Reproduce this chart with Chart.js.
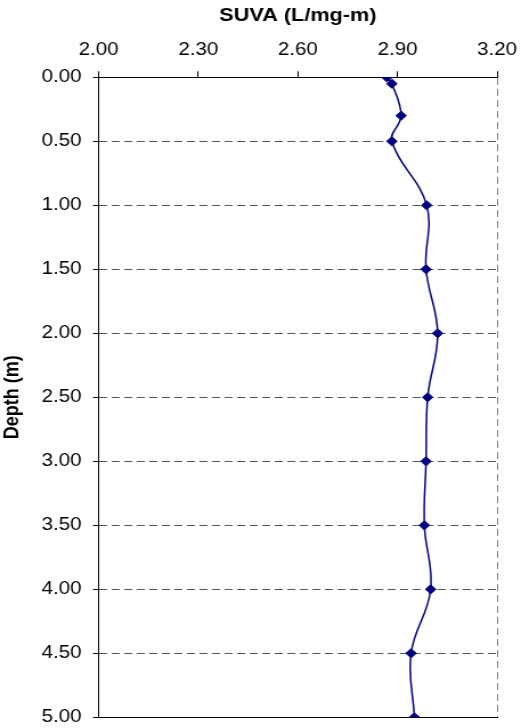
<!DOCTYPE html>
<html>
<head>
<meta charset="utf-8">
<script src="https://cdn.jsdelivr.net/npm/chart.js@4/dist/chart.umd.min.js"></script>
<style>
  html, body { margin: 0; padding: 0; background: #fff; overflow: hidden; }
  /* the reference picture is stretched sideways, so stretch the canvas the same way */
  #wrap { width: 457px; height: 728px; transform: scaleX(1.14); transform-origin: 0 0; }
</style>
</head>
<body>
<div id="wrap"><canvas id="depth-chart" width="457" height="728"></canvas></div>
<script>
// values
const depths = [0, 0.05, 0.3, 0.5, 1.0, 1.5, 2.0, 2.5, 3.0, 3.5, 4.0, 4.5, 5.0];
const suva = [2.868, 2.883, 2.911, 2.883, 2.988, 2.986, 3.021, 2.991, 2.986, 2.981, 3.0, 2.941, 2.951];
const xTicks = [2.0, 2.3, 2.6, 2.9, 3.2];
const yTicks = [0, 0.5, 1.0, 1.5, 2.0, 2.5, 3.0, 3.5, 4.0, 4.5, 5.0];

const font = "'Liberation Sans', Arial, sans-serif";
Chart.defaults.color = "#000";
Chart.defaults.font.family = font;

new Chart(document.getElementById("depth-chart"), {
  type: "scatter",
  data: {
    datasets: [
      {
        data: depths.map((d, i) => ({ x: suva[i], y: d })),
        showLine: true,
        tension: 0.4,
        borderColor: "#000080",
        borderWidth: 1.5,
        backgroundColor: "#000080",
        pointStyle: "rectRot",
        pointRadius: 4.6,
        pointBorderWidth: 1,
        pointBorderColor: "#000080",
      },
    ],
  },
  options: {
    responsive: false,
    animation: false,
    layout: { padding: { left: 0, top: 0, right: 21, bottom: 10.7 } },
    plugins: { legend: { display: false }, tooltip: { enabled: false } },
    scales: {
      x: {
        type: "linear",
        position: "top",
        min: 2,
        max: 3.2,
        afterBuildTicks: (s) => { s.ticks = xTicks.map((v) => ({ value: v })); },
        afterFit: (s) => {
          s.height = 77.3;
          s.paddingLeft = 0; // let the layout padding decide the edges
          s.paddingRight = 0;
        },
        ticks: {
          padding: 10.8,
          font: { size: 18 },
          callback: (v) => Number(v).toFixed(2),
        },
        grid: {
          drawOnChartArea: true,
          tickLength: 6,
          tickColor: "#000",
          // only the right edge gets a line
          color: (c) => (c.tick && c.tick.value === 3.2 ? "#808080" : "transparent"),
        },
        border: { color: "#000", width: 1, dash: [7, 4] },
        title: {
          display: true,
          text: "SUVA (L/mg-m)",
          font: { size: 19, weight: "bold" },
          padding: { top: 4.6, bottom: 0 },
        },
      },
      x2: {
        type: "linear",
        position: "bottom",
        min: 2,
        max: 3.2,
        ticks: { display: false },
        grid: { display: false },
        border: { color: "#000", width: 1 },
        afterFit: (s) => {
          s.height = 0;
          s.paddingLeft = 0;
          s.paddingRight = 0;
        },
      },
      y: {
        type: "linear",
        position: "left",
        reverse: true,
        min: 0,
        max: 5,
        afterBuildTicks: (s) => { s.ticks = yTicks.map((v) => ({ value: v })); },
        afterFit: (s) => {
          s.width = 86.6;
          s.paddingTop = 0;
          s.paddingBottom = 0;
        },
        ticks: {
          padding: 10,
          font: { size: 18 },
          callback: (v) => Number(v).toFixed(2),
        },
        grid: {
          tickLength: 5,
          tickColor: "#000",
          color: "#555",
        },
        border: { color: "#000", width: 1, dash: [7, 4] },
        title: {
          display: true,
          text: "Depth (m)",
          font: { size: 18, weight: "bold" },
          padding: { top: 0, bottom: 0, left: 1.5 },
        },
      },
    },
  },
});
</script>
</body>
</html>
